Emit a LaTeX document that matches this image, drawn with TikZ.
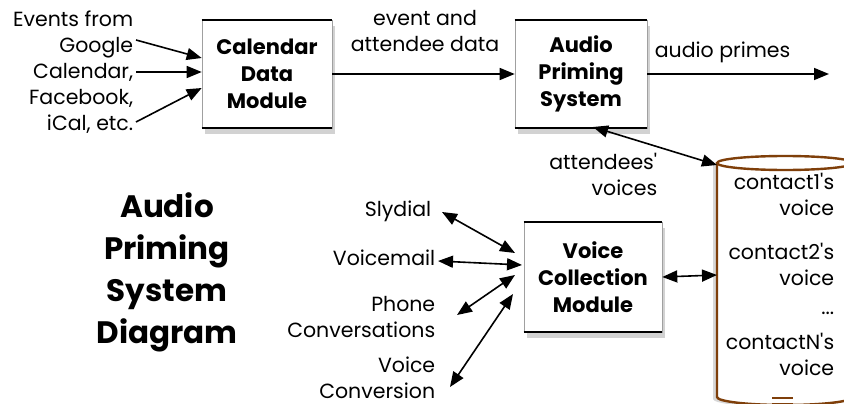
\documentclass[tikz,border=0pt]{standalone}
\usepackage{fontspec}
\setmainfont{Poppins}
\usepackage{xcolor}
\definecolor{cylcolor}{HTML}{7F3F0A}
\definecolor{sidecolor}{HTML}{A0A0A0}
\usetikzlibrary{arrows.meta,shadows}

\begin{document}
\begin{tikzpicture}[
  x=1pt, y=-1pt,
  line width=1.6pt,
  tip/.style={-{Triangle[length=15pt,width=12pt]}},
  biarrow/.style={{Triangle[length=15pt,width=12pt]}-{Triangle[length=15pt,width=12pt]}},
  module/.style={draw=sidecolor, line width=0.6pt, fill=white, align=center,
    minimum width=130, minimum height=108, inner sep=0pt,
    font=\fontsize{21}{27}\selectfont\bfseries,
    drop shadow={shadow xshift=3pt, shadow yshift=-6pt, opacity=0.35}},
  label/.style={align=right, inner sep=0pt, font=\fontsize{20.5}{26}\selectfont},
]
  \useasboundingbox (0,0) rectangle (844,404);
  \fill[white] (0,0) rectangle (844,404);

  % modules
  \node[module] (cal) at (267,74) {Calendar\\Data\\Module};
  \node[module, minimum width=132] (aps) at (581,74) {Audio\\Priming\\System};
  \node[module, minimum width=138, minimum height=110] (vcm) at (593,277) {Voice\\Collection\\Module};
  \foreach \b in {cal, aps, vcm} {
    \draw[line width=2pt] (\b.north west) -- (\b.north east);
    \draw[line width=2pt] (\b.south west) -- (\b.south east);
  }

  % title
  \node[align=center, inner sep=0pt, font=\fontsize{31}{42}\selectfont\bfseries]
    (title) at (167,272) {Audio\\Priming\\System\\Diagram};

  % calendar sources
  \node[label, anchor=north east] (src) at (134,10)
    {Events from\\Google\\Calendar,\\Facebook,\\iCal, etc.};
  \coordinate (g) at (136,40);
  \coordinate (c) at (136,72);
  \coordinate (f) at (136,122);
  \draw[tip] (g) -- (cal.west |- 0,58);
  \draw[tip] (c) -- (cal.west |- 0,72);
  \draw[tip] (f) -- (cal.west |- 0,88);

  % calendar to priming system
  \draw[tip] (cal.east) -- (aps.west);
  \node[label, align=center, anchor=north] (ead) at (425,10) {event and\\attendee data};

  % audio primes
  \coordinate (out) at (829,74);
  \draw[tip] (aps.east) -- (out);
  \node[label, anchor=south west] (ap) at (654,64) {audio primes};

  % voice database
  \begin{scope}
    \clip (0,0) rectangle (844,404);
    \fill[white, drop shadow={shadow xshift=-4pt, shadow yshift=-2pt, opacity=0.3}]
      (717,163) -- (717,397) arc[start angle=180, end angle=0, x radius=68, y radius=8]
      -- (853,163) -- cycle;
    \draw[cylcolor, line width=2.4pt] (717,163) -- (717,397)
      arc[start angle=180, end angle=0, x radius=68, y radius=8] -- (853,163);
    \draw[cylcolor, line width=2.4pt, fill=white] (785,163) ellipse[x radius=68, y radius=7];
    \draw[cylcolor, line width=2.4pt] (772,398) -- (793,398);
    \draw[cylcolor, line width=2.4pt] (772,404) -- (793,404);
  \end{scope}
  \coordinate (db) at (717,165);
  \coordinate (dbin) at (717,275);
  \node[label, anchor=north east] (c1) at (835,172) {contact1\textquotesingle s\\voice};
  \node[label, anchor=north east] (c2) at (835,242) {contact2\textquotesingle s\\voice};
  \node[label, anchor=base east] (dots) at (835,314) {...};
  \node[label, anchor=north east] (cn) at (835,332) {contactN\textquotesingle s\\voice};

  \draw[biarrow] (aps.south |- 0,127) ++(12,0) coordinate (apsb) -- (db);
  \node[label, anchor=north east] (av) at (658,152) {attendees\textquotesingle\\voices};
  \draw[biarrow] (vcm.east) -- (dbin);

  % voice sources
  \node[label, anchor=north east] (sly) at (432,200) {Slydial};
  \node[label, anchor=north east] (vm) at (436,249) {Voicemail};
  \node[label, anchor=north east] (pc) at (436,296) {Phone\\Conversations};
  \node[label, anchor=north east] (vc) at (436,356) {Voice\\Conversion};
  \coordinate (s1) at (442,212);
  \coordinate (s2) at (438,261);
  \coordinate (s3) at (457,315);
  \coordinate (s4) at (450,387);
  \draw[biarrow] (s1) -- (515,253);
  \draw[biarrow] (s2) -- (522,265);
  \draw[biarrow] (s3) -- (515,275);
  \draw[biarrow] (s4) -- (513,294);
\end{tikzpicture}
\end{document}
